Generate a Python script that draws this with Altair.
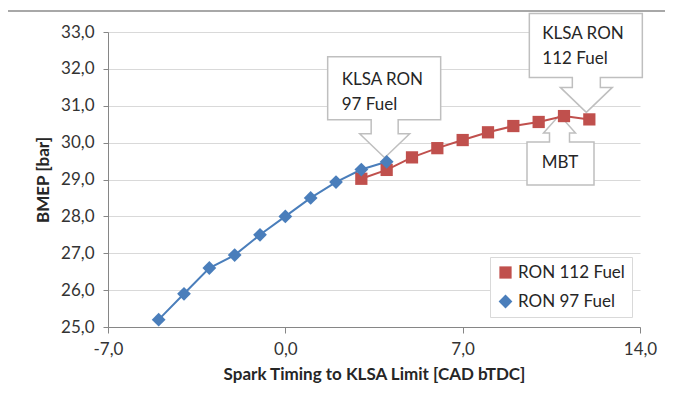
import altair as alt
import pandas as pd

# ---------------- data ----------------
ron97_x = [-5, -4, -3, -2, -1, 0, 1, 2, 3, 4]
ron97_y = [25.2, 25.9, 26.6, 26.95, 27.5, 28.0, 28.5, 28.93, 29.27, 29.48]
ron112_x = [3, 4, 5, 6, 7, 8, 9, 10, 11, 12]
ron112_y = [29.02, 29.26, 29.6, 29.85, 30.07, 30.28, 30.45, 30.56, 30.72, 30.63]
series_names = ["RON 112 Fuel", "RON 97 Fuel"]
x_ticks = [-7, 0, 7, 14]
y_ticks = [25, 26, 27, 28, 29, 30, 31, 32, 33]
callout_texts = ["KLSA RON\n97 Fuel", "KLSA RON\n112 Fuel", "MBT"]

# ---------------- style ----------------
RED = "#C0504D"
BLUE = "#4A7EBB"
AXIS_GREY = "#868686"
GRID_GREY = "#D9D9D9"
TEXT = "#262626"
FONT = "Lato"
LABEL_EXPR = "replace(replace(format(datum.value, '.1f'), '.', ','), '\u2212', '-')"

# callout outlines (pixel units, tip near origin)
PATH_97 = "M -59,-105 L 54,-105 L 54,-42 L 11.5,-42 L 11.5,-28 L 23,-28 L -2,-4 L -27,-28 L -15.5,-28 L -15.5,-42 L -59,-42 Z"
PATH_112 = "M -60,-106 L 53,-106 L 53,-42 L 11,-42 L 11,-32 L 23,-32 L -3,-7 L -29,-32 L -17,-32 L -17,-42 L -60,-42 Z"
PATH_MBT = "M -37,26 L -14.5,26 L -14.5,17 L -20.5,17 L -4.5,-1 L 11.5,17 L 5.5,17 L 5.5,26 L 30,26 L 30,69 L -37,69 Z"

xe = alt.X(
    "x:Q",
    scale=alt.Scale(domain=[-7, 14], nice=False, zero=False),
    axis=alt.Axis(
        values=x_ticks, title="Spark Timing to KLSA Limit [CAD bTDC]", grid=False,
        labelExpr=LABEL_EXPR, labelFlush=False, labelOverlap=False,
        tickSize=6, labelPadding=8, domainColor=AXIS_GREY, tickColor=AXIS_GREY,
        labelFont=FONT, labelFontSize=17, labelColor="#333333",
        titleFont=FONT, titleFontSize=17, titleFontWeight="bold", titleColor=TEXT,
        titlePadding=9,
    ),
)
ye = alt.Y(
    "y:Q",
    scale=alt.Scale(domain=[25, 33], nice=False, zero=False),
    axis=alt.Axis(
        values=y_ticks, title="BMEP [bar]", grid=True, gridColor=GRID_GREY,
        labelExpr=LABEL_EXPR, labelFlush=False, labelOverlap=False,
        tickSize=5, labelPadding=9, domainColor=AXIS_GREY, tickColor=AXIS_GREY,
        labelFont=FONT, labelFontSize=17, labelColor="#333333",
        titleFont=FONT, titleFontSize=17, titleFontWeight="bold", titleColor=TEXT,
        titlePadding=8,
    ),
)

df97 = pd.DataFrame({"x": ron97_x, "y": ron97_y, "series": series_names[1]})
df112 = pd.DataFrame({"x": ron112_x, "y": ron112_y, "series": series_names[0]})
df_all = pd.concat([df112, df97], ignore_index=True)

# chart frame
frame = alt.Chart(pd.DataFrame({"a": [0]})).mark_rect(
    fillOpacity=0, stroke="#8C8C8C", strokeWidth=1.5
).encode(x=alt.value(-101), x2=alt.value(640), y=alt.value(-21), y2=alt.value(440))


def callout(ax, ay, path, text, dx, dy, align):
    d = pd.DataFrame({"x": [ax], "y": [ay], "label": [text]})
    shp = alt.Chart(d).mark_point(
        shape=path, size=4, filled=True, fill="white", stroke="#BFBFBF",
        strokeWidth=1.5, opacity=1
    ).encode(x=xe, y=ye)
    lab = alt.Chart(d).mark_text(
        align=align, baseline="alphabetic", dx=dx, dy=dy, lineBreak="\n",
        lineHeight=25, font=FONT, fontSize=17, color=TEXT
    ).encode(x=xe, y=ye, text="label:N")
    return [shp, lab]


imax = ron112_y.index(max(ron112_y))
callouts = (
    callout(ron97_x[-1], ron97_y[-1], PATH_97, callout_texts[0], -45, -77, "left")
    + callout(ron112_x[-1], ron112_y[-1], PATH_112, callout_texts[1], -47, -80, "left")
    + callout(ron112_x[imax], ron112_y[imax], PATH_MBT, callout_texts[2], -4, 52, "center")
)

line112 = alt.Chart(df112).mark_line(color=RED, strokeWidth=2).encode(x=xe, y=ye)
line97 = alt.Chart(df97).mark_line(color=BLUE, strokeWidth=2).encode(x=xe, y=ye)

legend = alt.Legend(
    title=None, orient="none", legendX=382, legendY=225, padding=7,
    fillColor="white", strokeColor=GRID_GREY, labelFont=FONT, labelFontSize=17,
    labelColor=TEXT, symbolSize=140, rowPadding=11, labelOffset=4,
)
points = alt.Chart(df_all).mark_point(filled=True, opacity=1).encode(
    x=xe, y=ye,
    color=alt.Color("series:N", scale=alt.Scale(domain=series_names, range=[RED, BLUE]), legend=legend),
    shape=alt.Shape("series:N", scale=alt.Scale(domain=series_names, range=["square", "diamond"]), legend=legend),
    size=alt.Size("series:O", scale=alt.Scale(domain=series_names, range=[150, 190]), legend=None),
)

chart = alt.layer(frame, *callouts, line112, line97, points).properties(
    width=532, height=295,
    autosize=alt.AutoSizeParams(type="none"),
    padding={"left": 100, "top": 24, "right": 25, "bottom": 74},
).configure_view(stroke="transparent")

chart.save("out.html", embed_options={"renderer": "svg", "actions": False})
